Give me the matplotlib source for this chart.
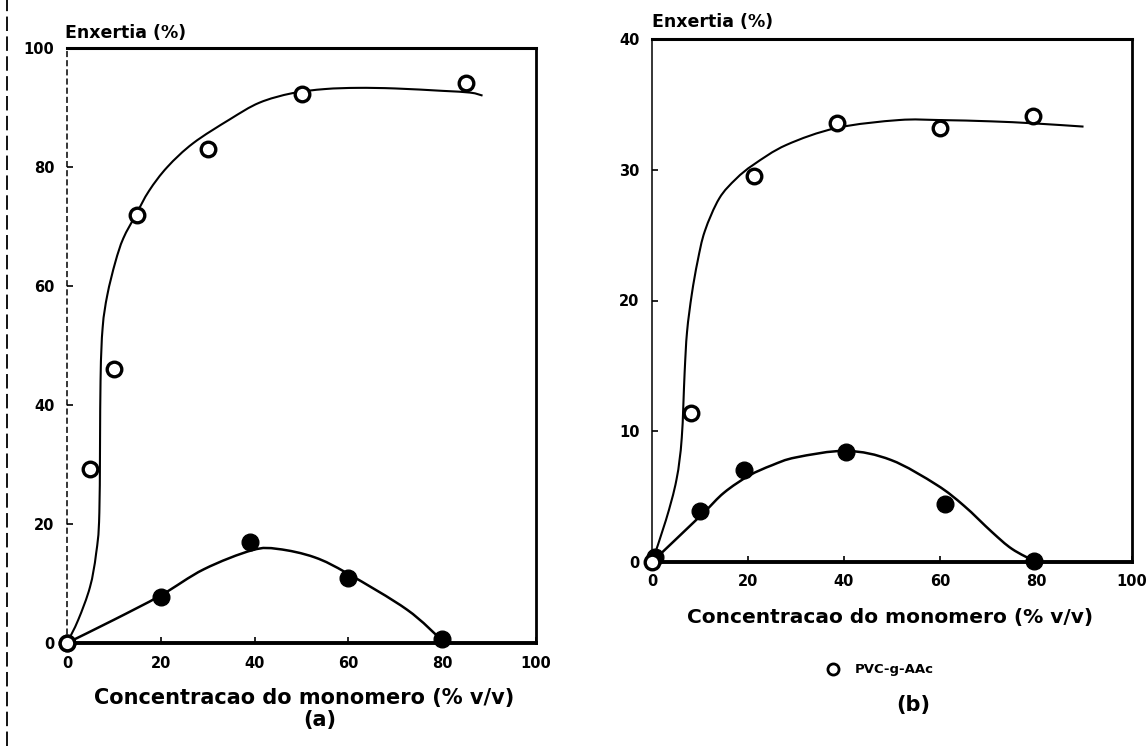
import numpy as np
import matplotlib.pyplot as plt
from matplotlib.lines import Line2D
from matplotlib.path import Path
from matplotlib.patches import PathPatch

W, H = 1147, 746

# panel (a): measured points
a_open_x = [0, 5, 10, 15, 30, 50, 85]
a_open_y = [0, 29.2, 46, 72, 83, 92.2, 94.2]
a_fill_x = [0, 20, 39, 60, 80]
a_fill_y = [0, 7.7, 17, 11, 0.6]

# panel (a): hand-drawn trend curves (knots)
a_curve_open_x = [0, 2.4, 4.9, 6.2, 6.9, 7.15, 7.6, 8.6, 10.3, 12, 14.7,
                  17.5, 21.4, 26.9, 34.7, 41, 48, 55, 62, 70, 80, 86, 88.6]
a_curve_open_y = [0, 3.9, 9.4, 15, 22, 44, 53, 58.5, 64, 68, 72,
                  76, 80, 84, 88, 90.8, 92.4, 93.1, 93.3, 93.2, 92.8, 92.5, 92.0]
a_curve_fill_x = [0, 10, 20, 29.2, 39.5, 45, 52.8, 60, 72.5, 80]
a_curve_fill_y = [0, 3.9, 8.0, 12.4, 15.6, 15.8, 14.4, 11.6, 5.6, 0.4]

# panel (b): measured points
b_open_x = [0, 8.2, 21.2, 38.5, 59.9, 79.4]
b_open_y = [0, 11.4, 29.5, 33.6, 33.2, 34.1]
b_fill_x = [0.6, 9.9, 19.2, 40.5, 61.1, 79.5]
b_fill_y = [0.4, 3.9, 7.0, 8.4, 4.4, 0.1]

# panel (b): hand-drawn trend curves (knots)
b_curve_open_x = [0, 2.9, 5.1, 6.2, 6.8, 7.3, 8.3, 9.5, 11, 14, 17.5, 21.2, 28,
                  38.5, 51.4, 60, 70.8, 79.4, 89.9]
b_curve_open_y = [0, 3.2, 6.3, 9.5, 14.5, 17.6, 20.5, 23, 25.3, 27.8, 29.3, 30.4, 31.9,
                  33.2, 33.8, 33.8, 33.7, 33.55, 33.3]
b_curve_fill_x = [0, 10.3, 15, 20.2, 25, 30, 40.5, 49.8, 59.3, 65, 70.8, 75, 80]
b_curve_fill_y = [0, 3.6, 5.3, 6.6, 7.4, 8.0, 8.5, 7.8, 5.9, 4.3, 2.3, 1.0, 0]

x_ticks = [0, 20, 40, 60, 80, 100]
a_yticks = [0, 20, 40, 60, 80, 100]
b_yticks = [0, 10, 20, 30, 40]

xlabel = 'Concentracao do monomero (% v/v)'
ylabel = 'Enxertia (%)'

plt.rcParams['font.family'] = ['DejaVu Sans']
plt.rcParams['font.weight'] = 'bold'

fig = plt.figure(figsize=(W / 100, H / 100), dpi=100)
fig.patch.set_facecolor('white')


def px_rect(left, top, right, bottom):
    return [left / W, 1 - bottom / H, (right - left) / W, (bottom - top) / H]


def style_axis(ax, ymax, yticks, left_ls):
    ax.set_xlim(0, 100)
    ax.set_ylim(0, ymax)
    ax.set_xticks(x_ticks)
    ax.set_yticks(yticks)
    ax.tick_params(direction='in', length=4, width=1.2, labelsize=10.5, pad=9)
    for lab in ax.get_xticklabels() + ax.get_yticklabels():
        lab.set_fontweight('heavy')
    ax.spines['bottom'].set_linewidth(2.8)
    ax.spines['top'].set_linewidth(2.2)
    ax.spines['right'].set_linewidth(2.0)
    ax.spines['left'].set_linewidth(1.1)
    ax.spines['left'].set_linestyle(left_ls)
    for sp in ax.spines.values():
        sp.set_zorder(1)


def smooth_curve(ax, xs, ys, lw):
    # Catmull-Rom through the knots, drawn as cubic Bezier segments
    p = np.column_stack([xs, ys]).astype(float)
    pts = np.vstack([p[0], p, p[-1]])
    verts = [p[0]]
    codes = [Path.MOVETO]
    for i in range(1, len(pts) - 2):
        p0, p1, p2, p3 = pts[i - 1], pts[i], pts[i + 1], pts[i + 2]
        verts += [p1 + (p2 - p0) / 6, p2 - (p3 - p1) / 6, p2]
        codes += [Path.CURVE4] * 3
    ax.add_patch(PathPatch(Path(verts, codes), fill=False, edgecolor='black',
                           lw=lw, zorder=2, clip_on=False))


def draw_panel(ax, cox, coy, cfx, cfy, ox, oy, fx, fy):
    smooth_curve(ax, cox, coy, 1.5)
    smooth_curve(ax, cfx, cfy, 1.8)
    ax.plot(fx, fy, 'o', color='black', ms=12, zorder=3, clip_on=False)
    ax.plot(ox, oy, 'o', mfc='white', mec='black', mew=2.4, ms=10.5, zorder=4, clip_on=False)


# (a)
ax1 = fig.add_axes(px_rect(67, 48, 536, 643))
style_axis(ax1, 100, a_yticks, (0, (3, 3)))
draw_panel(ax1, a_curve_open_x, a_curve_open_y, a_curve_fill_x, a_curve_fill_y,
           a_open_x, a_open_y, a_fill_x, a_fill_y)

# (b)
ax2 = fig.add_axes(px_rect(652, 39, 1132, 562))
style_axis(ax2, 40, b_yticks, 'solid')
draw_panel(ax2, b_curve_open_x, b_curve_open_y, b_curve_fill_x, b_curve_fill_y,
           b_open_x, b_open_y, b_fill_x, b_fill_y)


def ftext(x, y, s, **kw):
    fig.text(x / W, 1 - y / H, s, fontweight='heavy', **kw)


ftext(65, 33, ylabel, fontsize=12.5, ha='left', va='center')
ftext(652, 22, ylabel, fontsize=12.5, ha='left', va='center')
ftext(304, 698, xlabel, fontsize=15, ha='center', va='center')
ftext(320, 720, '(a)', fontsize=15, ha='center', va='center')
ftext(890, 617, xlabel, fontsize=14.5, ha='center', va='center')
ftext(913, 705, '(b)', fontsize=15, ha='center', va='center')

# legend for the open symbols
fig.add_artist(Line2D([833 / W], [1 - 669 / H], marker='o', mfc='white', mec='black',
                      mew=2, ms=8, transform=fig.transFigure))
ftext(855, 669, 'PVC-g-AAc', fontsize=9.5, ha='left', va='center')

# edge of the scanned page
fig.add_artist(Line2D([7 / W, 7 / W], [0, 1], color='black', lw=1.3,
                      linestyle=(0, (8, 3)), transform=fig.transFigure))

fig.savefig('out.png', dpi=100, facecolor='white')
